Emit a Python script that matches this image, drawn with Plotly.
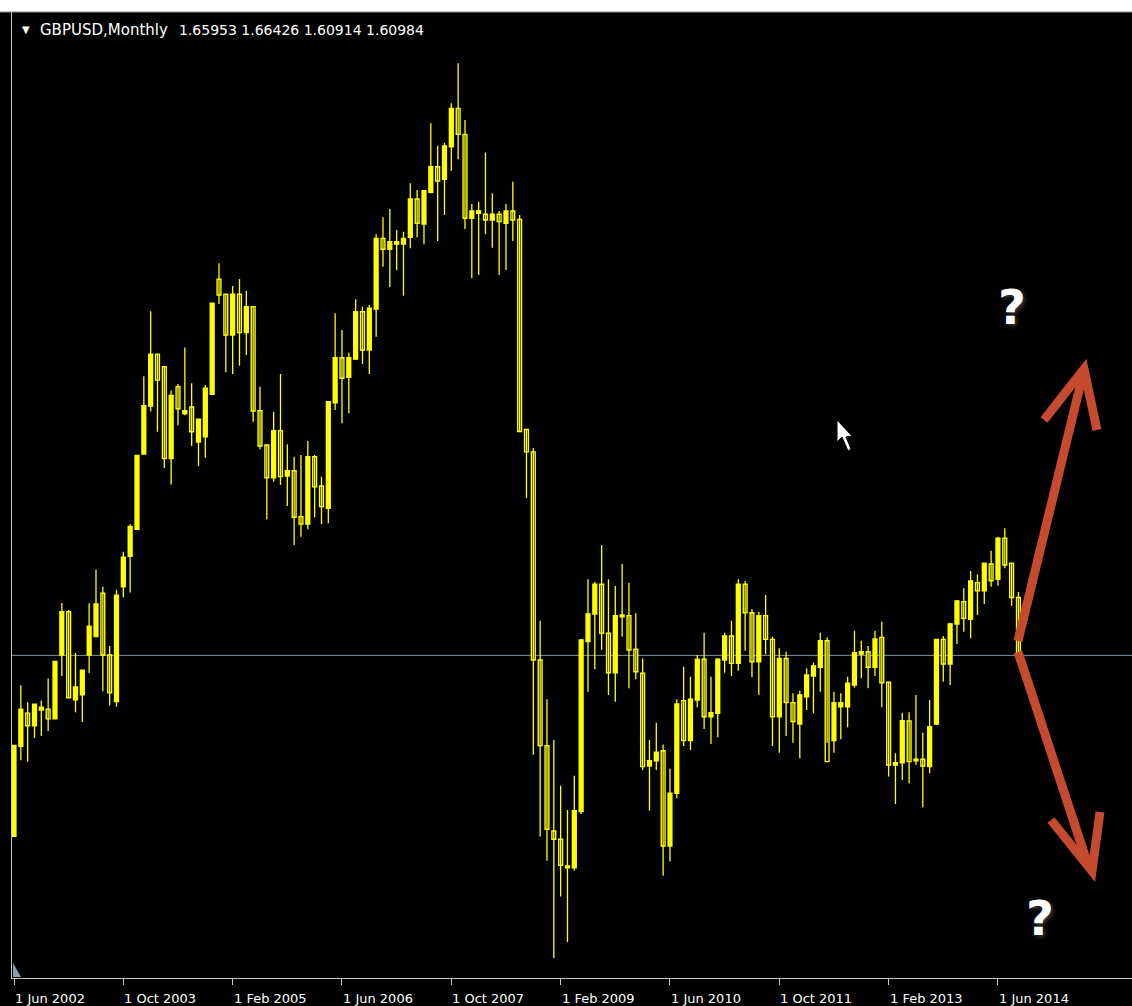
import plotly.graph_objects as go

# ---------------- data (GBPUSD monthly, Jun 2002 .. Sep 2014) ----------------
opens = [1.4547, 1.5318, 1.5603, 1.5495, 1.5630, 1.5637, 1.5554, 1.6102, 1.6473, 1.5718,
         1.5761, 1.6102, 1.6260, 1.6631, 1.6102, 1.5702, 1.6687, 1.6949, 1.7179, 1.7825,
         1.8236, 1.8682, 1.8574, 1.7786, 1.8403, 1.8170, 1.8229, 1.7928, 1.7974, 1.8338,
         1.9324, 1.9195, 1.8846, 1.9195, 1.8866, 1.9089, 1.8197, 1.7903, 1.7622, 1.8025,
         1.7637, 1.7682, 1.7288, 1.7225, 1.7802, 1.7551, 1.7360, 1.8265, 1.8651, 1.8483,
         1.8640, 1.9046, 1.8717, 1.9069, 1.9675, 1.9581, 1.9627, 1.9627, 1.9684, 2.0012,
         1.9798, 2.0070, 2.0289, 2.0181, 2.0461, 2.0790, 2.0567, 1.9847, 1.9890, 1.9881,
         1.9832, 1.9881, 1.9804, 1.9910, 1.9838, 1.8035, 1.7844, 1.6059, 1.5324, 1.4592,
         1.4521, 1.4276, 1.4276, 1.4758, 1.6216, 1.6453, 1.6708, 1.6288, 1.5950, 1.6429,
         1.6439, 1.6151, 1.5945, 1.5150, 1.5195, 1.5281, 1.4464, 1.4916, 1.5710, 1.5367,
         1.5716, 1.6065, 1.5572, 1.5602, 1.6059, 1.6265, 1.6030, 1.6708, 1.6464, 1.6044,
         1.6439, 1.6236, 1.5572, 1.6073, 1.5693, 1.5510, 1.5744, 1.5922, 1.5996, 1.6224,
         1.5367, 1.5658, 1.5658, 1.5844, 1.6110, 1.6130, 1.5996, 1.6253, 1.5868, 1.5158,
         1.5178, 1.5536, 1.5195, 1.5207, 1.5144, 1.5510, 1.6236, 1.6024, 1.6368, 1.6559,
         1.6408, 1.6722, 1.6653, 1.6882, 1.6751, 1.7103, 1.6888, 1.65953]
highs = [1.5325, 1.5843, 1.5696, 1.5679, 1.5712, 1.5899, 1.6047, 1.6548, 1.6488, 1.6119,
         1.5971, 1.6546, 1.6834, 1.6687, 1.6178, 1.6661, 1.6988, 1.7222, 1.7813, 1.8492,
         1.9050, 1.8682, 1.8574, 1.8370, 1.8426, 1.8738, 1.8433, 1.8124, 1.8417, 1.9118,
         1.9461, 1.9195, 1.9266, 1.9326, 1.9226, 1.9089, 1.8403, 1.7903, 1.8188, 1.8512,
         1.7909, 1.7802, 1.7817, 1.7937, 1.7817, 1.7631, 1.8274, 1.9032, 1.8889, 1.8694,
         1.9152, 1.9089, 1.9103, 1.9710, 1.9856, 1.9927, 1.9747, 1.9732, 2.0147, 2.0090,
         2.0084, 2.0662, 2.0470, 2.0495, 2.0833, 2.1176, 2.0690, 1.9970, 1.9989, 2.0410,
         2.0061, 1.9910, 1.9970, 2.0161, 1.9875, 1.8035, 1.7875, 1.6396, 1.5722, 1.5373,
         1.4981, 1.4772, 1.5066, 1.6239, 1.6751, 1.6730, 1.7045, 1.6751, 1.6693, 1.6882,
         1.6722, 1.6459, 1.6073, 1.5373, 1.5521, 1.5333, 1.5127, 1.5722, 1.6001, 1.5916,
         1.6102, 1.6293, 1.5916, 1.6073, 1.6293, 1.6396, 1.6751, 1.6736, 1.6494, 1.6473,
         1.6616, 1.6259, 1.6159, 1.6130, 1.5773, 1.5795, 1.5988, 1.6036, 1.6293, 1.6253,
         1.5787, 1.5773, 1.5916, 1.6310, 1.6224, 1.6179, 1.6310, 1.6387, 1.5868, 1.5259,
         1.5607, 1.5610, 1.5759, 1.5435, 1.5716, 1.6236, 1.6265, 1.6379, 1.6573, 1.6674,
         1.6822, 1.6794, 1.6888, 1.6996, 1.7116, 1.7188, 1.6888, 1.66426]
lows = [1.4547, 1.5200, 1.5187, 1.5390, 1.5407, 1.5450, 1.5554, 1.5922, 1.5735, 1.5610,
        1.5528, 1.5948, 1.6260, 1.5791, 1.5669, 1.5659, 1.6595, 1.6638, 1.7179, 1.7825,
        1.8190, 1.8016, 1.7705, 1.7563, 1.8072, 1.8157, 1.7894, 1.7721, 1.7794, 1.8338,
        1.9112, 1.8526, 1.8512, 1.8583, 1.8675, 1.8103, 1.7866, 1.7265, 1.7588, 1.7560,
        1.7380, 1.7045, 1.7116, 1.7180, 1.7283, 1.7223, 1.7231, 1.8203, 1.8089, 1.8175,
        1.8632, 1.8597, 1.8512, 1.8831, 1.9432, 1.9258, 1.9404, 1.9183, 1.9590, 1.9684,
        1.9624, 2.0061, 1.9652, 1.9875, 2.0253, 2.0353, 1.9755, 1.9332, 1.9361, 1.9710,
        1.9595, 1.9361, 1.9404, 1.9652, 1.8014, 1.7446, 1.5247, 1.4546, 1.4338, 1.3503,
        1.4031, 1.3639, 1.4252, 1.4738, 1.5787, 1.5979, 1.6145, 1.5759, 1.5701, 1.6259,
        1.5816, 1.5893, 1.5115, 1.4766, 1.5115, 1.4209, 1.4331, 1.4873, 1.5321, 1.5287,
        1.5653, 1.5467, 1.5338, 1.5396, 1.5950, 1.5922, 1.5967, 1.6139, 1.5910, 1.5759,
        1.6108, 1.5321, 1.5264, 1.5407, 1.5350, 1.5216, 1.5630, 1.5602, 1.5787, 1.5350,
        1.5264, 1.5379, 1.5482, 1.5821, 1.5902, 1.5816, 1.5922, 1.5653, 1.5058, 1.4824,
        1.5030, 1.5001, 1.5158, 1.4795, 1.5087, 1.5501, 1.5873, 1.5844, 1.6196, 1.6301,
        1.6245, 1.6445, 1.6539, 1.6687, 1.6696, 1.6845, 1.6522, 1.60914]
closes = [1.5325, 1.5637, 1.5495, 1.5679, 1.5653, 1.5554, 1.6047, 1.6473, 1.5735, 1.5827,
          1.5971, 1.6349, 1.6539, 1.6102, 1.5777, 1.6615, 1.6940, 1.7205, 1.7813, 1.8239,
          1.8682, 1.8459, 1.7786, 1.8328, 1.8213, 1.8197, 1.8016, 1.8124, 1.8389, 1.9118,
          1.9189, 1.8846, 1.9195, 1.8866, 1.9089, 1.8194, 1.7894, 1.7622, 1.8025, 1.7631,
          1.7682, 1.7283, 1.7225, 1.7802, 1.7545, 1.7374, 1.8274, 1.8651, 1.8475, 1.8651,
          1.9046, 1.8717, 1.9075, 1.9675, 1.9581, 1.9646, 1.9646, 1.9675, 2.0012, 1.9804,
          2.0084, 2.0289, 2.0167, 2.0467, 2.0790, 2.0567, 1.9847, 1.9910, 1.9910, 1.9832,
          1.9881, 1.9818, 1.9910, 1.9832, 1.8019, 1.7844, 1.6059, 1.5324, 1.4607, 1.4521,
          1.4297, 1.4292, 1.4766, 1.6230, 1.6453, 1.6708, 1.6288, 1.5950, 1.6439, 1.6445,
          1.6145, 1.5958, 1.5144, 1.5195, 1.5267, 1.4464, 1.4916, 1.5681, 1.5367, 1.5722,
          1.6065, 1.5572, 1.5607, 1.6065, 1.6265, 1.6030, 1.6708, 1.6464, 1.6044, 1.6439,
          1.6236, 1.5572, 1.6073, 1.5693, 1.5530, 1.5759, 1.5930, 1.6007, 1.6224, 1.5187,
          1.5693, 1.5693, 1.5859, 1.6121, 1.6130, 1.5996, 1.6239, 1.5864, 1.5158, 1.5178,
          1.5538, 1.5187, 1.5207, 1.5150, 1.5487, 1.6236, 1.6024, 1.6368, 1.6565, 1.6416,
          1.6736, 1.6653, 1.6888, 1.6739, 1.7103, 1.6874, 1.6595, 1.60984]

tick_index = [0, 16, 32, 48, 64, 80, 96, 112, 128, 144]
tick_labels = ["1 Jun 2002", "1 Oct 2003", "1 Feb 2005", "1 Jun 2006", "1 Oct 2007",
               "1 Feb 2009", "1 Jun 2010", "1 Oct 2011", "1 Feb 2013", "1 Jun 2014"]
symbol = "GBPUSD,Monthly"

# ---------------- figure ----------------
W, H = 1132, 1006
ML, MR, MT, MB = 12, 0, 12, 28
PW, PH = W - ML - MR, H - MT - MB
YELLOW = "#FFFF00"

n = len(opens)
idx = list(range(n))

def paper(px, py):
    return (px - ML) / PW, (H - MB - py) / PH

fig = go.Figure()

# wicks
wx, wy = [], []
for i in idx:
    wx += [i, i, None]
    wy += [lows[i], highs[i], None]
fig.add_trace(go.Scatter(x=wx, y=wy, mode="lines", line=dict(color=YELLOW, width=1.3),
                         hoverinfo="skip", showlegend=False))

MINH = 0.0009
bx, bb, bh, rx, rb, rh = [], [], [], [], [], []
for i in idx:
    o, c = opens[i], closes[i]
    if c >= o:
        bx.append(i); bb.append(o); bh.append(max(c - o, MINH))
    else:
        rx.append(i); rb.append(c); rh.append(max(o - c, MINH))

fig.add_trace(go.Bar(x=bx, y=bh, base=bb, width=0.56,
                     marker=dict(color=YELLOW, line=dict(color=YELLOW, width=1.4)),
                     hoverinfo="skip", showlegend=False))
fig.add_trace(go.Bar(x=rx, y=rh, base=rb, width=0.56,
                     marker=dict(color="#000000", line=dict(color=YELLOW, width=1.4)),
                     hoverinfo="skip", showlegend=False))

x_lo = (ML - 14) / 6.833
x_hi = (W - MR - 14) / 6.833
y_top = 2.17191 - MT / 1166
y_bot = 2.17191 - (H - MB) / 1166

shapes = []
# bid line
shapes.append(dict(type="line", xref="paper", yref="y", x0=0, x1=1,
                   y0=closes[-1], y1=closes[-1], line=dict(color="#8494A4", width=1),
                   layer="below"))
# top white window band
shapes.append(dict(type="rect", xref="paper", yref="paper", x0=-0.02, x1=1.02,
                   y0=1.0, y1=paper(0, -2)[1], fillcolor="#FFFFFF", line=dict(width=0)))
shapes.append(dict(type="line", xref="paper", yref="paper", x0=-0.02, x1=1.02,
                   y0=1.0, y1=1.0, line=dict(color="#909090", width=1)))

def path(points, close=False):
    s = ""
    for j, (a, b) in enumerate(points):
        xp, yp = paper(a, b)
        s += ("M" if j == 0 else " L") + f"{xp:.5f},{yp:.5f}"
    if close:
        s += " Z"
    return s

RED = "#C54A30"
for pts in ([(1018, 641), (1083, 374)], [(1044, 420), (1084, 369), (1097, 430)],
            [(1018, 652), (1089, 868)], [(1051, 820), (1092, 871), (1100, 812)]):
    shapes.append(dict(type="path", xref="paper", yref="paper", path=path(pts),
                       line=dict(color=RED, width=9), layer="above"))

# mouse cursor
shapes.append(dict(type="path", xref="paper", yref="paper",
                   path=path([(837, 420), (837, 442), (842, 437), (848, 451), (851, 449),
                              (846, 437), (852, 436)], close=True),
                   fillcolor="#FFFFFF", line=dict(color="#000000", width=1), layer="above"))
# small shift marker
shapes.append(dict(type="path", xref="paper", yref="paper",
                   path=path([(13, 963), (13, 977), (21, 977)], close=True),
                   fillcolor="#8C9CAC", line=dict(width=0), layer="above"))

annotations = []
for k, lab in zip(tick_index, tick_labels):
    annotations.append(dict(x=k, xref="x", y=paper(0, 989)[1], yref="paper",
                            text=lab, showarrow=False, xanchor="left", yanchor="top",
                            xshift=-1, font=dict(family="DejaVu Sans", size=13, color="#FFFFFF")))

nx, ny = paper(38, 30)
annotations.append(dict(x=nx, y=ny, xref="paper", yref="paper", text=symbol, showarrow=False,
                        xanchor="left", yanchor="middle",
                        font=dict(family="DejaVu Sans", size=15, color="#FFFFFF")))
numbers = " ".join(f"{v:.5f}" for v in (opens[-1], highs[-1], lows[-1], closes[-1]))
vx, vy = paper(177, 30)
annotations.append(dict(x=vx, y=vy, xref="paper", yref="paper", text=numbers, showarrow=False,
                        xanchor="left", yanchor="middle",
                        font=dict(family="DejaVu Sans", size=14, color="#FFFFFF")))
tx, ty = paper(26, 29)
annotations.append(dict(x=tx, y=ty, xref="paper", yref="paper", text="▼", showarrow=False,
                        xanchor="center", yanchor="middle",
                        font=dict(family="DejaVu Sans", size=10, color="#FFFFFF")))
for (qx, qy) in [(1012, 307), (1040, 918)]:
    ax_, ay_ = paper(qx, qy)
    annotations.append(dict(x=ax_, y=ay_, xref="paper", yref="paper", text="<b>?</b>",
                            showarrow=False, xanchor="center", yanchor="middle",
                            font=dict(family="DejaVu Sans", size=48, color="#FFFFFF",
                                      shadow="2px 2px 4px #3A3A3A")))

fig.update_layout(
    width=W, height=H,
    margin=dict(l=ML, r=MR, t=MT, b=MB, pad=0),
    paper_bgcolor="#000000", plot_bgcolor="#000000",
    barmode="overlay", showlegend=False,
    xaxis=dict(range=[x_lo, x_hi], showgrid=False, zeroline=False,
               showline=True, linecolor="#C8C8C8", linewidth=1,
               tickmode="array", tickvals=tick_index, ticks="outside", ticklen=6,
               tickcolor="#C8C8C8", showticklabels=False, fixedrange=True),
    yaxis=dict(range=[y_bot, y_top], showgrid=False, zeroline=False,
               showline=True, linecolor="#C8C8C8", linewidth=1,
               showticklabels=False, ticks="", fixedrange=True),
    shapes=shapes, annotations=annotations,
)

fig.write_html("out.html", config={"displayModeBar": False},
               post_script="document.body.style.margin='0';document.body.style.overflow='hidden';")
